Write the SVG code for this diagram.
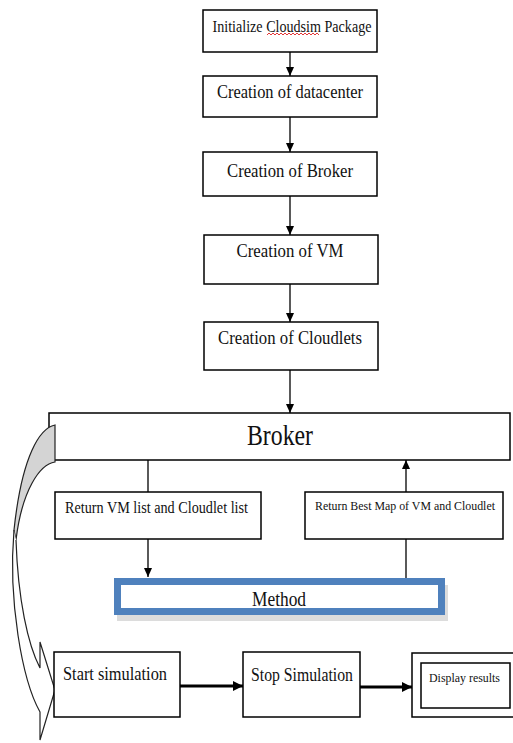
<svg xmlns="http://www.w3.org/2000/svg" width="513" height="743" viewBox="0 0 513 743">
<style>
.box{fill:#fff;stroke:#000;stroke-width:1.5}
.t{font-family:"Liberation Serif","Times New Roman",serif;fill:#111}
.ln{stroke:#000;stroke-width:1.3;fill:none}
.thick{stroke:#000;stroke-width:3;fill:none}
</style>
<defs>
<marker id="ah" markerUnits="userSpaceOnUse" markerWidth="10" markerHeight="10" refX="9" refY="4" orient="auto">
<path d="M0,0 L9,4 L0,8 Z" fill="#000"/>
</marker>
<marker id="ahT" markerUnits="userSpaceOnUse" markerWidth="12" markerHeight="12" refX="10" refY="5" orient="auto">
<path d="M0,0 L10,5 L0,10 Z" fill="#000"/>
</marker>
</defs>
<g id="n-broker">
<rect class="box" x="49" y="413" width="461" height="47"/>
<text class="t" x="280" y="445" font-size="30" text-anchor="middle" textLength="66" lengthAdjust="spacingAndGlyphs">Broker</text>
</g>
<g id="curved-arrow">
<path d="M55,425 C40,428 22,455 14,530 L16,540 C22,490 40,464 55,462 Z" fill="#d4d4d4" stroke="#222" stroke-width="1.2"/>
<path d="M16,540 C18,600 28,645 40,668 L40,642 L55,690 L40,740 L40,712 C22,680 8,600 14,530" fill="#fff" stroke="#222" stroke-width="1.2"/>
</g>
<g id="n-init">
<rect class="box" x="203" y="10" width="174" height="42"/>
<text class="t" x="292" y="32" font-size="16" text-anchor="middle" textLength="159" lengthAdjust="spacingAndGlyphs">Initialize Cloudsim Package</text>
<path d="M267,35 l2,-2 l2,2 l2,-2 l2,2 l2,-2 l2,2 l2,-2 l2,2 l2,-2 l2,2 l2,-2 l2,2 l2,-2 l2,2 l2,-2 l2,2 l2,-2 l2,2 l2,-2 l2,2 l2,-2 l2,2 l2,-2 l2,2 l2,-2 l2,2" fill="none" stroke="#e02020" stroke-width="0.9"/>
</g>
<g id="n-datacenter">
<rect class="box" x="203" y="76" width="174" height="41"/>
<text class="t" x="290" y="98" font-size="19" text-anchor="middle" textLength="146" lengthAdjust="spacingAndGlyphs">Creation of datacenter</text>
</g>
<g id="n-createbroker">
<rect class="box" x="203" y="152" width="174" height="44"/>
<text class="t" x="290" y="177" font-size="19" text-anchor="middle" textLength="126" lengthAdjust="spacingAndGlyphs">Creation of Broker</text>
</g>
<g id="n-vm">
<rect class="box" x="204" y="235" width="174" height="49"/>
<text class="t" x="290" y="257" font-size="19" text-anchor="middle" textLength="107" lengthAdjust="spacingAndGlyphs">Creation of VM</text>
</g>
<g id="n-cloudlets">
<rect class="box" x="204" y="322" width="174" height="48"/>
<text class="t" x="290" y="344" font-size="19" text-anchor="middle" textLength="144" lengthAdjust="spacingAndGlyphs">Creation of Cloudlets</text>
</g>
<g id="n-returnvm">
<rect class="box" x="55" y="492" width="206" height="47"/>
<text class="t" x="65" y="513" font-size="16" textLength="183" lengthAdjust="spacingAndGlyphs">Return VM list and Cloudlet list</text>
</g>
<g id="n-returnbest">
<rect class="box" x="305" y="492" width="198" height="47"/>
<text class="t" x="405" y="510" font-size="13" text-anchor="middle" textLength="180" lengthAdjust="spacingAndGlyphs">Return Best Map of VM and Cloudlet</text>
</g>
<g id="n-method">
<rect x="117" y="585" width="331" height="36" fill="#dcdcdc"/>
<rect x="117.5" y="581.5" width="324" height="30" fill="#fff" stroke="#4f81bd" stroke-width="7"/>
<text class="t" x="279" y="606" font-size="22" text-anchor="middle" textLength="54" lengthAdjust="spacingAndGlyphs">Method</text>
</g>
<g id="n-start">
<rect class="box" x="54" y="652" width="126" height="65"/>
<text class="t" x="63" y="680" font-size="19" textLength="104" lengthAdjust="spacingAndGlyphs">Start simulation</text>
</g>
<g id="n-stop">
<rect class="box" x="243" y="652" width="117" height="65"/>
<text class="t" x="251" y="681" font-size="19" textLength="102" lengthAdjust="spacingAndGlyphs">Stop Simulation</text>
</g>
<g id="n-display">
<rect class="box" x="412" y="653" width="104" height="64"/>
<rect class="box" x="421" y="663" width="89" height="45"/>
<text class="t" x="429" y="682" font-size="13" textLength="71" lengthAdjust="spacingAndGlyphs">Display results</text>
</g>
<g id="connectors">
<line class="ln" x1="290" y1="52" x2="290" y2="76" marker-end="url(#ah)"/>
<line class="ln" x1="290" y1="117" x2="290" y2="152" marker-end="url(#ah)"/>
<line class="ln" x1="290" y1="196" x2="290" y2="235" marker-end="url(#ah)"/>
<line class="ln" x1="290" y1="284" x2="290" y2="322" marker-end="url(#ah)"/>
<line class="ln" x1="290" y1="370" x2="290" y2="413" marker-end="url(#ah)"/>
<line class="ln" x1="148" y1="460" x2="148" y2="492"/>
<line class="ln" x1="148" y1="539" x2="148" y2="577" marker-end="url(#ah)"/>
<line class="ln" x1="406" y1="578" x2="406" y2="539"/>
<line class="ln" x1="406" y1="492" x2="406" y2="460" marker-end="url(#ah)"/>
<line class="thick" x1="180" y1="686" x2="243" y2="686" marker-end="url(#ahT)"/>
<line class="thick" x1="360" y1="687" x2="412" y2="687" marker-end="url(#ahT)"/>
</g>
</svg>
